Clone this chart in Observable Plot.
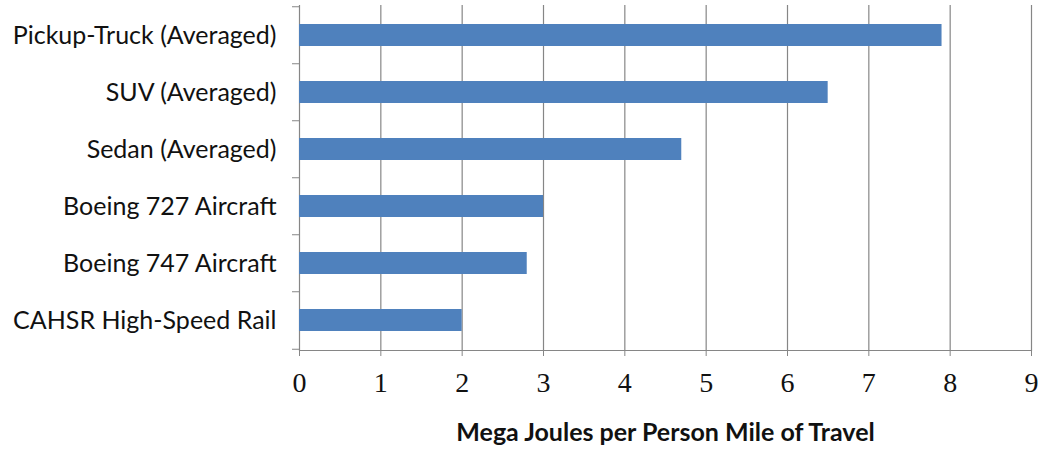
<!DOCTYPE html>
<html>
<head>
<meta charset="utf-8">
<script src="https://cdn.jsdelivr.net/npm/d3@7"></script>
<script src="https://cdn.jsdelivr.net/npm/@observablehq/plot@0.6"></script>
<style>
  html, body { margin: 0; padding: 0; background: #fff; }
</style>
</head>
<body>
<div id="chart"></div>
<script>
const categories = [
  "Pickup-Truck (Averaged)",
  "SUV (Averaged)",
  "Sedan (Averaged)",
  "Boeing 727 Aircraft",
  "Boeing 747 Aircraft",
  "CAHSR High-Speed Rail"
];
const values = [7.9, 6.5, 4.7, 3.0, 2.8, 2.0];
const xTicks = [0, 1, 2, 3, 4, 5, 6, 7, 8, 9];
const xLabel = "Mega Joules per Person Mile of Travel";

const data = categories.map((name, i) => ({name, value: values[i]}));

const W = 1042, H = 457;
const mTop = 5, mBottom = 107;
const step = (H - mTop - mBottom) / categories.length;
const gray = "#868686";

const chart = Plot.plot({
  width: W,
  height: H,
  marginLeft: 299,
  marginRight: 11,
  marginTop: mTop,
  marginBottom: mBottom,
  style: {background: "#fff", color: "#000"},
  x: {domain: [0, 9], ticks: xTicks},
  y: {domain: categories, paddingInner: 0.62, paddingOuter: 0.31},
  marks: [
    Plot.gridX(xTicks, {stroke: gray, strokeOpacity: 1, strokeWidth: 1.2}),
    Plot.barX(data, {x: "value", y: "name", fill: "#4f81bd"}),
    Plot.frame({anchor: "bottom", stroke: gray, strokeWidth: 1.2}),
    Plot.axisX(xTicks, {tickSize: 6, tickPadding: 16, stroke: gray, fill: "#111",
      fontSize: 28, fontFamily: "Liberation Serif", label: null}),
    Plot.axisY({tickSize: 0, tickPadding: 23, fontSize: 25, fontFamily: "Lato", fill: "#111", label: null}),
    Plot.axisY(categories, {text: null, tickSize: 7, dy: -step / 2, stroke: gray, label: null}),
    Plot.axisY(categories.slice(-1), {text: null, tickSize: 7, dy: step / 2, stroke: gray, label: null}),
    Plot.text([xLabel], {text: d => d, frameAnchor: "bottom", dy: 90, fontSize: 25,
      fontWeight: "bold", fontFamily: "Lato", fill: "#111"})
  ]
});
document.getElementById("chart").appendChild(chart);
</script>
</body>
</html>
